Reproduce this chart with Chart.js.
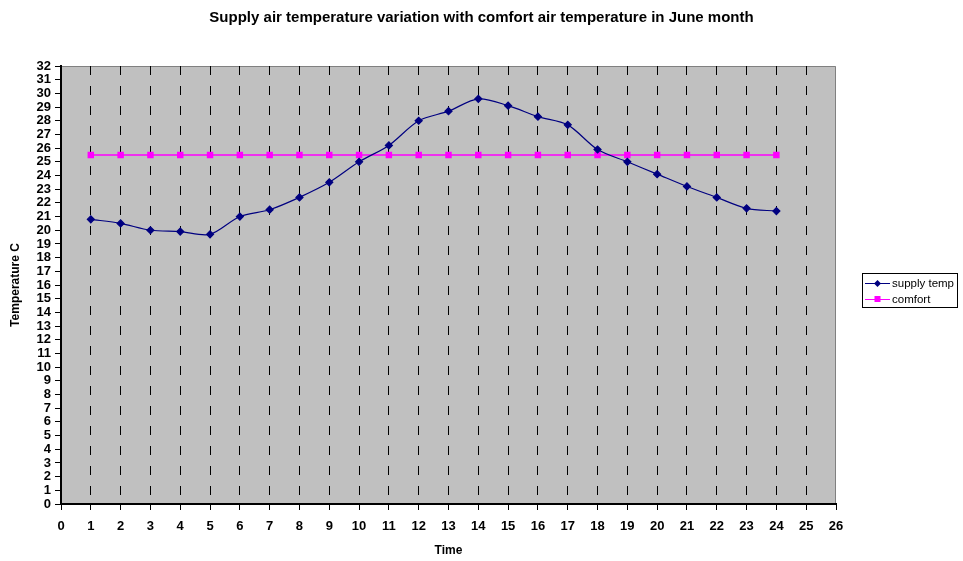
<!DOCTYPE html>
<html>
<head>
<meta charset="utf-8">
<script src="https://cdn.jsdelivr.net/npm/chart.js@4"></script>
<style>
  html, body { margin: 0; padding: 0; background: #fff; }
  #wrap { width: 963px; height: 561px; }
</style>
</head>
<body>
<div id="wrap"><canvas id="myChart" width="963" height="561"></canvas></div>
<script>
const chartTitle = 'Supply air temperature variation with comfort air temperature in June month';
const hours = [1, 2, 3, 4, 5, 6, 7, 8, 9, 10, 11, 12, 13, 14, 15, 16, 17, 18, 19, 20, 21, 22, 23, 24];
const supplyTemp = [20.8, 20.5, 20.0, 19.9, 19.7, 21.0, 21.5, 22.4, 23.5, 25.0, 26.2, 28.0, 28.7, 29.6, 29.1, 28.3, 27.7, 25.9, 25.0, 24.1, 23.2, 22.4, 21.6, 21.4];
const comfortTemp = [25.5, 25.5, 25.5, 25.5, 25.5, 25.5, 25.5, 25.5, 25.5, 25.5, 25.5, 25.5, 25.5, 25.5, 25.5, 25.5, 25.5, 25.5, 25.5, 25.5, 25.5, 25.5, 25.5, 25.5];
const xMin = 0, xMax = 26;
const yMin = 0, yMax = 32;

const FONT = "'Liberation Sans', Arial, sans-serif";

function toPoints(xs, ys) {
  return xs.map((x, i) => ({ x: x, y: ys[i] }));
}

// gray plot background + gray top/right frame
const plotBackground = {
  id: 'plotBackground',
  beforeDraw(chart) {
    const a = chart.chartArea, c = chart.ctx;
    c.save();
    c.fillStyle = '#c0c0c0';
    c.fillRect(a.left, a.top, a.right - a.left, a.bottom - a.top);
    c.strokeStyle = '#808080';
    c.lineWidth = 1;
    c.beginPath();
    c.moveTo(a.left, a.top + 0.5);
    c.lineTo(a.right - 0.5, a.top + 0.5);
    c.lineTo(a.right - 0.5, a.bottom);
    c.stroke();
    c.restore();
  }
};

// title centred over the whole canvas + boxed legend on the right
const extras = {
  id: 'extras',
  afterDraw(chart) {
    const c = chart.ctx, a = chart.chartArea;
    c.save();
    c.fillStyle = '#000';
    c.font = 'bold 15px ' + FONT;
    c.textAlign = 'center';
    c.textBaseline = 'middle';
    c.fillText(chartTitle, chart.width / 2, 18);

    const bx = a.right + 26, by = a.top + 207, bw = 95, bh = 34;
    c.fillStyle = '#fff';
    c.fillRect(bx, by, bw, bh);
    c.strokeStyle = '#000';
    c.lineWidth = 1;
    c.strokeRect(bx + 0.5, by + 0.5, bw, bh);
    c.font = '11.5px ' + FONT;
    c.textAlign = 'left';
    chart.data.datasets.forEach((ds, i) => {
      const y = by + 10 + i * 16;
      c.strokeStyle = ds.borderColor;
      c.lineWidth = 1;
      c.beginPath();
      c.moveTo(bx + 3, y + 0.5);
      c.lineTo(bx + 28, y + 0.5);
      c.stroke();
      c.fillStyle = ds.pointBackgroundColor;
      if (ds.pointStyle === 'rectRot') {
        c.beginPath();
        c.moveTo(bx + 15.5, y - 3); c.lineTo(bx + 19, y + 0.5);
        c.lineTo(bx + 15.5, y + 4); c.lineTo(bx + 12, y + 0.5);
        c.closePath(); c.fill();
      } else {
        c.fillRect(bx + 12.5, y - 3, 6, 6);
      }
      c.fillStyle = '#000';
      c.fillText(ds.label, bx + 30, y + 1);
    });
    c.restore();
  }
};

const ctx = document.getElementById('myChart');

new Chart(ctx, {
  type: 'line',
  data: {
    datasets: [{
      label: 'supply temp',
      data: toPoints(hours, supplyTemp),
      borderColor: '#000080',
      backgroundColor: '#000080',
      pointBackgroundColor: '#000080',
      pointBorderColor: '#000080',
      pointStyle: 'rectRot',
      pointRadius: 3.5,
      borderWidth: 1.2,
      tension: 0.3,
      fill: false
    }, {
      label: 'comfort',
      data: toPoints(hours, comfortTemp),
      borderColor: '#ff00ff',
      backgroundColor: '#ff00ff',
      pointBackgroundColor: '#ff00ff',
      pointBorderColor: '#ff00ff',
      pointStyle: 'rect',
      pointRadius: 3.5,
      borderWidth: 1.5,
      tension: 0,
      fill: false
    }]
  },
  options: {
    responsive: false,
    animation: false,
    layout: { padding: { top: 66, right: 127, bottom: 0, left: 0 } },
    plugins: {
      legend: { display: false },
      title: { display: false },
      tooltip: { enabled: false }
    },
    scales: {
      x: {
        type: 'linear',
        min: xMin,
        max: xMax,
        afterFit(scale) { scale.height = 57; },
        ticks: {
          stepSize: 1,
          autoSkip: false,
          maxRotation: 0,
          padding: 9,
          color: '#000',
          font: { family: FONT, size: 13, weight: 'bold' }
        },
        grid: {
          color: c => (c.tick && (c.tick.value === xMin || c.tick.value === xMax)) ? 'rgba(0,0,0,0)' : '#000',
          tickColor: '#000',
          tickLength: 6,
          lineWidth: 1
        },
        border: { color: '#000', width: 2, dash: [9, 11], dashOffset: 0 },
        title: {
          display: true,
          text: 'Time',
          color: '#000',
          font: { family: FONT, size: 12, weight: 'bold' },
          padding: { top: 0, bottom: 3 }
        }
      },
      y: {
        min: yMin,
        max: yMax,
        afterFit(scale) { scale.width = 61; },
        ticks: {
          stepSize: 1,
          autoSkip: false,
          padding: 4,
          color: '#000',
          font: { family: FONT, size: 13, weight: 'bold' }
        },
        grid: {
          drawOnChartArea: false,
          tickColor: '#000',
          tickLength: 6
        },
        border: { color: '#000', width: 2 },
        title: {
          display: true,
          text: 'Temperature C',
          color: '#000',
          font: { family: FONT, size: 12, weight: 'bold' },
          padding: { top: 8, bottom: 0 }
        }
      }
    }
  },
  plugins: [plotBackground, extras]
});
</script>
</body>
</html>
